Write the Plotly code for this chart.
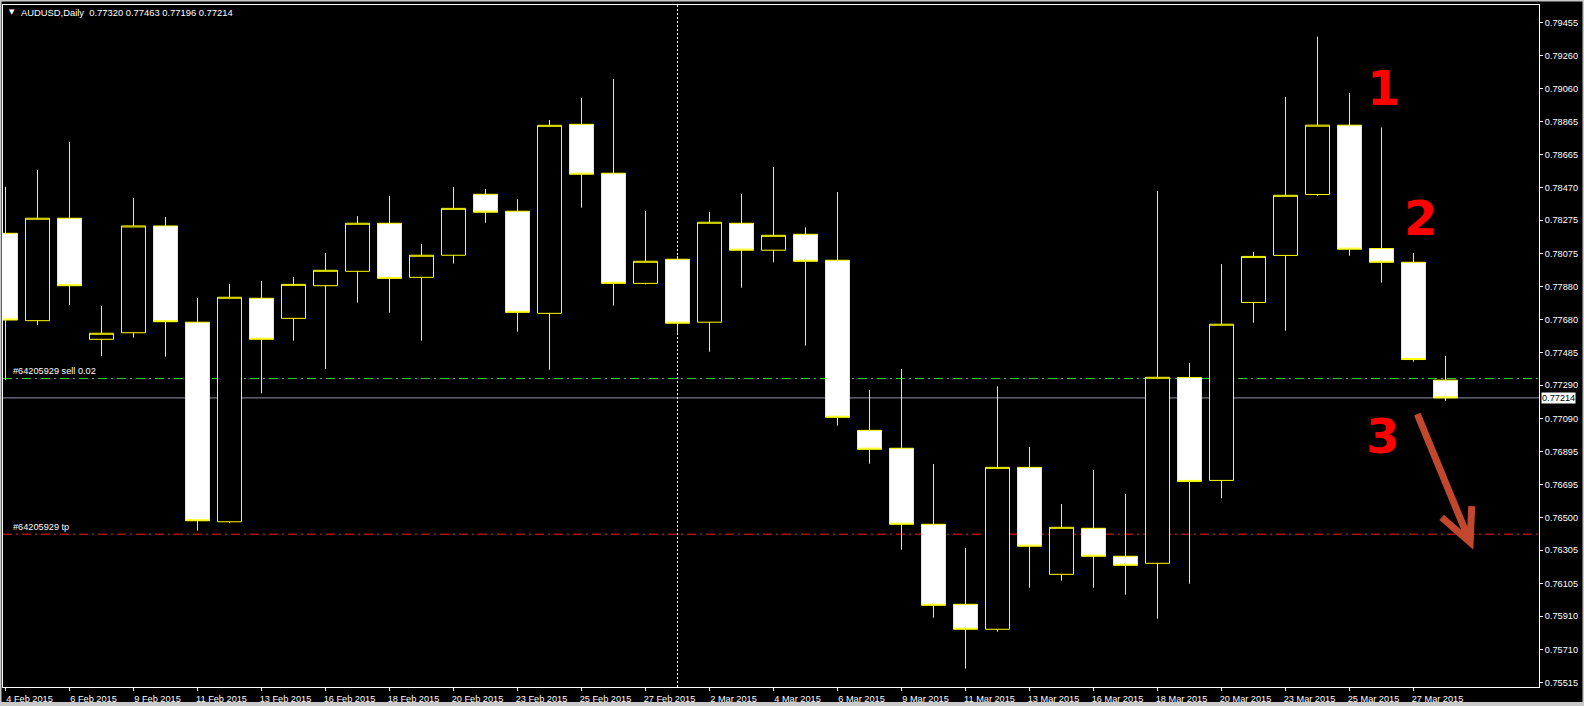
import plotly.graph_objects as go

# ---------------- data ----------------
dates = [
    "4 Feb 2015", "5 Feb 2015", "6 Feb 2015", "8 Feb 2015", "9 Feb 2015", "10 Feb 2015",
    "11 Feb 2015", "12 Feb 2015", "13 Feb 2015", "15 Feb 2015", "16 Feb 2015", "17 Feb 2015",
    "18 Feb 2015", "19 Feb 2015", "20 Feb 2015", "22 Feb 2015", "23 Feb 2015", "24 Feb 2015",
    "25 Feb 2015", "26 Feb 2015", "27 Feb 2015", "1 Mar 2015", "2 Mar 2015", "3 Mar 2015",
    "4 Mar 2015", "5 Mar 2015", "6 Mar 2015", "8 Mar 2015", "9 Mar 2015", "10 Mar 2015",
    "11 Mar 2015", "12 Mar 2015", "13 Mar 2015", "15 Mar 2015", "16 Mar 2015", "17 Mar 2015",
    "18 Mar 2015", "19 Mar 2015", "20 Mar 2015", "22 Mar 2015", "23 Mar 2015", "24 Mar 2015",
    "25 Mar 2015", "26 Mar 2015", "27 Mar 2015", "29 Mar 2015",
]
open_ = [
    0.78197, 0.77675, 0.78287, 0.77564, 0.77603, 0.78241, 0.77666, 0.76474, 0.77809, 0.77689,
    0.77884, 0.77970, 0.78257, 0.77934, 0.78066, 0.78430, 0.78329, 0.77719, 0.78848, 0.78556,
    0.77898, 0.78042, 0.77666, 0.78257, 0.78096, 0.78191, 0.78036, 0.77020, 0.76913, 0.76459,
    0.75981, 0.75832, 0.76799, 0.76160, 0.76435, 0.76268, 0.76226, 0.77336, 0.76721, 0.77784,
    0.78065, 0.78429, 0.78843, 0.78106, 0.78024, 0.77320,
]
high = [
    0.78475, 0.78575, 0.78742, 0.77763, 0.78408, 0.78294, 0.77811, 0.77894, 0.77912, 0.77936,
    0.78079, 0.78300, 0.78420, 0.78133, 0.78474, 0.78462, 0.78400, 0.78874, 0.79005, 0.79119,
    0.78330, 0.78062, 0.78324, 0.78432, 0.78593, 0.78233, 0.78444, 0.77261, 0.77387, 0.76819,
    0.76317, 0.77283, 0.76921, 0.76580, 0.76783, 0.76640, 0.78450, 0.77423, 0.78013, 0.78086,
    0.79012, 0.79371, 0.79035, 0.78829, 0.78079, 0.77463,
]
low = [
    0.77321, 0.77649, 0.77769, 0.77464, 0.77574, 0.77460, 0.76421, 0.76465, 0.77241, 0.77556,
    0.77387, 0.77783, 0.77723, 0.77556, 0.78016, 0.78260, 0.77609, 0.77382, 0.78350, 0.77765,
    0.77892, 0.77603, 0.77490, 0.77872, 0.78024, 0.77526, 0.77048, 0.76821, 0.76307, 0.75901,
    0.75598, 0.75817, 0.76080, 0.76122, 0.76080, 0.76038, 0.75895, 0.76104, 0.76614, 0.77663,
    0.77615, 0.78420, 0.78063, 0.77903, 0.77430, 0.77196,
]
close = [
    0.77679, 0.78287, 0.77884, 0.77600, 0.78241, 0.77669, 0.76480, 0.77815, 0.77564, 0.77892,
    0.77976, 0.78257, 0.77928, 0.78066, 0.78346, 0.78323, 0.77725, 0.78842, 0.78550, 0.77898,
    0.78030, 0.77660, 0.78263, 0.78096, 0.78185, 0.78030, 0.77098, 0.76907, 0.76459, 0.75975,
    0.75832, 0.76799, 0.76328, 0.76441, 0.76268, 0.76214, 0.77337, 0.76715, 0.77654, 0.78059,
    0.78424, 0.78843, 0.78102, 0.78024, 0.77443, 0.77214,
]
y_tick_vals = [
    0.79455, 0.79260, 0.79060, 0.78865, 0.78665, 0.78470, 0.78275, 0.78075, 0.77880, 0.77680,
    0.77485, 0.77290, 0.77090, 0.76895, 0.76695, 0.76500, 0.76305, 0.76105, 0.75910, 0.75710,
    0.75515,
]
symbol_title = "AUDUSD,Daily  0.77320 0.77463 0.77196 0.77214"
sell_price = 0.77330
sell_label = "#64205929 sell 0.02"
tp_price = 0.76400
tp_label = "#64205929 tp"
bid_price = 0.77214
marker_bar = 21          # vertical dotted separator bar index
step_labels = [("1", 43.05, 0.79065), ("2", 44.23, 0.78288), ("3", 43.02, 0.76986)]
arrow_pts = [(44.12, 0.77117), (45.77, 0.76351), (44.88, 0.76500), (45.82, 0.76568)]

x_idx = list(range(len(dates)))
x_tick_vals = x_idx[::2]
x_tick_text = dates[::2]
y_tick_text = [f"{v:.5f}" for v in y_tick_vals]

# ---------------- geometry ----------------
W, H = 1584, 706
ML, MR, MT, MB = 3, 45, 5, 19
PW, PH = W - ML - MR, H - MT - MB
BAR_PX = 32.0
X0 = -(5.5 - ML) / BAR_PX
X1 = X0 + PW / BAR_PX
Y_TOP = 0.795607
Y_BOT = 0.754871

FONT = "Liberation Sans, Arial, sans-serif"
YEL = "#ffff00"

fig = go.Figure()
fig.add_trace(go.Candlestick(
    x=x_idx, open=open_, high=high, low=low, close=close,
    increasing=dict(line=dict(color=YEL, width=1), fillcolor="#000000"),
    decreasing=dict(line=dict(color=YEL, width=1), fillcolor="#ffffff"),
    whiskerwidth=0, showlegend=False, hoverinfo="skip",
))

def px_x(px):
    return (px - ML) / PW

def px_y(py):
    return (H - MB - py) / PH

shapes = []
# order lines
shapes.append(dict(type="line", xref="paper", yref="y", x0=0, x1=1, y0=sell_price, y1=sell_price,
                   line=dict(color="#2fd22f", width=1, dash="9px,4px,2px,4px"), layer="below"))
shapes.append(dict(type="line", xref="paper", yref="y", x0=0, x1=1, y0=tp_price, y1=tp_price,
                   line=dict(color="#ff1a1a", width=1, dash="9px,4px,2px,4px"), layer="below"))
shapes.append(dict(type="line", xref="paper", yref="y", x0=0, x1=1, y0=bid_price, y1=bid_price,
                   line=dict(color="#8a96a8", width=1), layer="below"))
# vertical dotted separator
shapes.append(dict(type="line", xref="x", yref="paper", x0=marker_bar, x1=marker_bar, y0=0, y1=1,
                   line=dict(color="#ffffff", width=1, dash="2px,2px"), layer="below"))
# red arrow
(sx, sy), (tx, ty), (lx, ly), (rx, ry) = arrow_pts
shapes.append(dict(type="path", xref="x", yref="y",
                   path=f"M {sx},{sy} L {tx},{ty} M {lx},{ly} L {tx},{ty} L {rx},{ry}",
                   line=dict(color="#c2472f", width=7), fillcolor="rgba(0,0,0,0)"))
# outer window frame
shapes.append(dict(type="rect", xref="paper", yref="paper",
                   x0=px_x(0.5), x1=px_x(W - 0.5), y0=px_y(H - 0.5), y1=px_y(0.5),
                   line=dict(color="#c8c8c8", width=2), fillcolor="rgba(0,0,0,0)"))
shapes.append(dict(type="rect", xref="paper", yref="paper",
                   x0=px_x(0), x1=px_x(W), y0=px_y(H), y1=px_y(702),
                   line=dict(width=0), fillcolor="#c8c8c8"))

annotations = []
annotations.append(dict(xref="paper", yref="paper", x=px_x(19), y=px_y(13), xanchor="left", yanchor="middle",
                        text=symbol_title, showarrow=False,
                        font=dict(family=FONT, size=9.4, color="#ffffff")))
annotations.append(dict(xref="paper", yref="paper", x=px_x(12), y=px_y(12), xanchor="center", yanchor="middle",
                        text="▼", showarrow=False,
                        font=dict(family="DejaVu Sans", size=7, color="#ffffff")))
annotations.append(dict(xref="paper", yref="y", x=px_x(11), y=sell_price, xanchor="left", yanchor="bottom",
                        text=sell_label, showarrow=False, yshift=0,
                        font=dict(family=FONT, size=9.2, color="#ffffff")))
annotations.append(dict(xref="paper", yref="y", x=px_x(11), y=tp_price, xanchor="left", yanchor="bottom",
                        text=tp_label, showarrow=False, yshift=0,
                        font=dict(family=FONT, size=9.2, color="#ffffff")))
annotations.append(dict(xref="paper", yref="y", x=1, y=bid_price, xanchor="left", yanchor="middle",
                        text=f"{bid_price:.5f}", showarrow=False, xshift=2,
                        bgcolor="#ffffff", borderpad=0,
                        font=dict(family=FONT, size=9.2, color="#000000")))
for txt, bx, by in step_labels:
    annotations.append(dict(xref="x", yref="y", x=bx, y=by, xanchor="center", yanchor="middle",
                            text=txt, showarrow=False,
                            font=dict(family="DejaVu Sans", size=48, color="#ff0000", weight="bold")))

fig.update_layout(
    width=W, height=H,
    margin=dict(l=ML, r=MR, t=MT, b=MB, pad=0),
    paper_bgcolor="#000000", plot_bgcolor="#000000",
    boxgap=0.25, boxgroupgap=0,
    showlegend=False,
    shapes=shapes, annotations=annotations,
    font=dict(family=FONT, size=9.2, color="#ffffff"),
    xaxis=dict(range=[X0, X1], showgrid=False, zeroline=False, rangeslider=dict(visible=False),
               tickmode="array", tickvals=x_tick_vals, ticktext=x_tick_text,
               ticks="outside", ticklen=3, tickcolor="#ffffff", tickwidth=1,
               ticklabelshift=24, ticklabelstandoff=0,
               showline=True, linecolor="#ffffff", linewidth=1, mirror=True,
               tickfont=dict(family=FONT, size=9.2, color="#ffffff")),
    yaxis=dict(range=[Y_BOT, Y_TOP], side="right", showgrid=False, zeroline=False,
               tickmode="array", tickvals=y_tick_vals, ticktext=y_tick_text,
               ticks="outside", ticklen=3, tickcolor="#ffffff", tickwidth=1,
               showline=True, linecolor="#ffffff", linewidth=1, mirror=True,
               tickfont=dict(family=FONT, size=9.2, color="#ffffff")),
)

fig.write_html(
    "out.html",
    config={"displayModeBar": False},
    post_script="document.body.style.margin='0';document.body.style.padding='0';"
                "document.body.style.overflow='hidden';document.body.style.background='#000';",
)
